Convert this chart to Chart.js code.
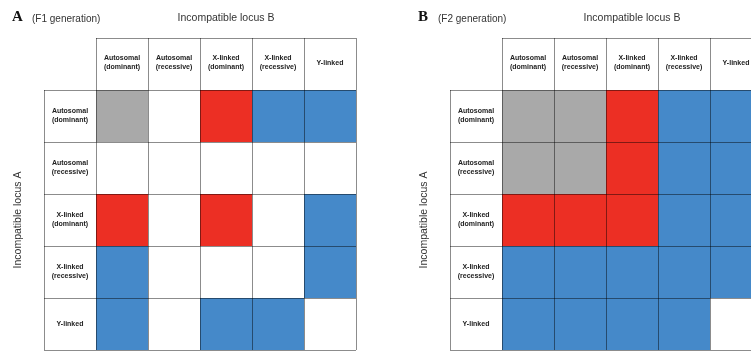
<!DOCTYPE html>
<html>
<head>
<meta charset="utf-8">
<script src="https://cdn.jsdelivr.net/npm/chart.js@4/dist/chart.umd.min.js"></script>
<style>
    html, body { margin: 0; padding: 0; background: #fff; overflow: hidden; }
    body { width: 751px; height: 351px; position: relative; }
    .panel { position: absolute; top: 0; }
</style>
</head>
<body>
<div class="panel" style="left:0px"><canvas id="chart-f1" width="375" height="351"></canvas></div>
<div class="panel" style="left:375px"><canvas id="chart-f2" width="400" height="351"></canvas></div>
<script>
// locus types, used for both the column (locus B) and row (locus A) headers
const locusTypes = [
    ['Autosomal', '(dominant)'],
    ['Autosomal', '(recessive)'],
    ['X-linked', '(dominant)'],
    ['X-linked', '(recessive)'],
    ['Y-linked']
];

// cell outcome codes: 0 = none, 1 = grey, 2 = red, 3 = blue
const f1Cells = [
    [1, 0, 2, 3, 3],
    [0, 0, 0, 0, 0],
    [2, 0, 2, 0, 3],
    [3, 0, 0, 0, 3],
    [3, 0, 3, 3, 0]
];
const f2Cells = [
    [1, 1, 2, 3, 3],
    [1, 1, 2, 3, 3],
    [2, 2, 2, 3, 3],
    [3, 3, 3, 3, 3],
    [3, 3, 3, 3, 0]
];

const panelLetters = ['A', 'B'];
const panelSubtitles = ['(F1 generation)', '(F2 generation)'];
const xTitle = 'Incompatible locus B';
const yTitle = 'Incompatible locus A';

const cellColors = ['#ffffff', '#a9a9a9', '#ec2f24', '#4589c9'];
const sansFont = '"Liberation Sans", Arial, Helvetica, sans-serif';

// draws header texts, panel letters and axis captions
const gridTextPlugin = {
    id: 'gridText',
    afterDraw(chart, args, opts) {
        const ctx = chart.ctx;
        const area = chart.chartArea;
        const x = chart.scales.x;
        const y = chart.scales.y;

        // blank top-left corner (no cell there)
        const cornerRight = Math.round(x.getPixelForValue(0) + (x.getPixelForValue(1) - x.getPixelForValue(0)) / 2);
        const cornerBottom = Math.round(y.getPixelForValue(1));
        ctx.save();
        ctx.fillStyle = '#ffffff';
        ctx.fillRect(area.left - 3, area.top - 3, cornerRight - area.left + 3, cornerBottom - area.top + 3);

        // header cells
        ctx.fillStyle = '#222';
        ctx.font = 'bold 7px ' + sansFont;
        ctx.textAlign = 'center';
        ctx.textBaseline = 'middle';
        const lineGap = 9;
        const drawCellText = (lines, cx, cy) => {
            const startY = cy - (lines.length - 1) * lineGap / 2;
            lines.forEach((line, i) => ctx.fillText(line, cx, startY + i * lineGap));
        };
        locusTypes.forEach((lines, i) => {
            drawCellText(lines, x.getPixelForValue(i + 1), y.getPixelForValue(0.5) - 1);
            drawCellText(lines, x.getPixelForValue(0), y.getPixelForValue(i + 1.5));
        });

        // panel letter and generation
        ctx.textAlign = 'left';
        ctx.textBaseline = 'alphabetic';
        ctx.fillStyle = '#111';
        ctx.font = 'bold 15px "Liberation Serif", "Times New Roman", serif';
        ctx.fillText(opts.letter, area.left - 32, 21);
        ctx.fillStyle = '#333';
        ctx.font = '10px ' + sansFont;
        ctx.fillText(opts.subtitle, area.left - 12, 22);

        // locus B caption, centred over the data columns
        const colsCenter = (x.getPixelForValue(1) + x.getPixelForValue(5)) / 2;
        ctx.textAlign = 'center';
        ctx.font = '10.5px ' + sansFont;
        ctx.fillText(xTitle, colsCenter, 21);

        // locus A caption, rotated
        const rowsCenter = (y.getPixelForValue(1) + y.getPixelForValue(6)) / 2;
        ctx.translate(area.left - 23, rowsCenter);
        ctx.rotate(-Math.PI / 2);
        ctx.fillText(yTitle, 0, 0);
        ctx.restore();
    }
};

function createGridChart(canvasId, cells, panelIndex, padding) {
    // column 0 and row 0 hold the headers
    const labels = [''].concat(locusTypes.map(l => l.join(' ')));
    const datasets = cells.map((row, r) => ({
        label: locusTypes[r].join(' '),
        data: [null].concat(row.map(() => [r + 1, r + 2])),
        backgroundColor: ['#ffffff'].concat(row.map(code => cellColors[code])),
        borderWidth: 0,
        inflateAmount: 0,
        categoryPercentage: 1,
        barPercentage: 1,
        grouped: false
    }));

    const ctx = document.getElementById(canvasId).getContext('2d');
    return new Chart(ctx, {
        type: 'bar',
        data: { labels: labels, datasets: datasets },
        plugins: [gridTextPlugin],
        options: {
            responsive: false,
            animation: false,
            events: [],
            layout: { padding: padding },
            plugins: {
                legend: { display: false },
                tooltip: { enabled: false },
                gridText: { letter: panelLetters[panelIndex], subtitle: panelSubtitles[panelIndex] }
            },
            scales: {
                x: {
                    type: 'category',
                    offset: true,
                    ticks: { display: false },
                    border: { display: false },
                    grid: { offset: true, drawTicks: false, color: 'rgba(0, 0, 0, 0.45)', lineWidth: 1, z: 1 }
                },
                y: {
                    type: 'linear',
                    min: 0,
                    max: 6,
                    reverse: true,
                    ticks: { display: false, stepSize: 1 },
                    border: { display: false },
                    grid: { drawTicks: false, color: 'rgba(0, 0, 0, 0.45)', lineWidth: 1, z: 1 }
                }
            }
        }
    });
}

createGridChart('chart-f1', f1Cells, 0, { left: 44, top: 38, right: 19, bottom: 1 });
createGridChart('chart-f2', f2Cells, 1, { left: 75, top: 38, right: 13, bottom: 1 });
</script>
</body>
</html>
